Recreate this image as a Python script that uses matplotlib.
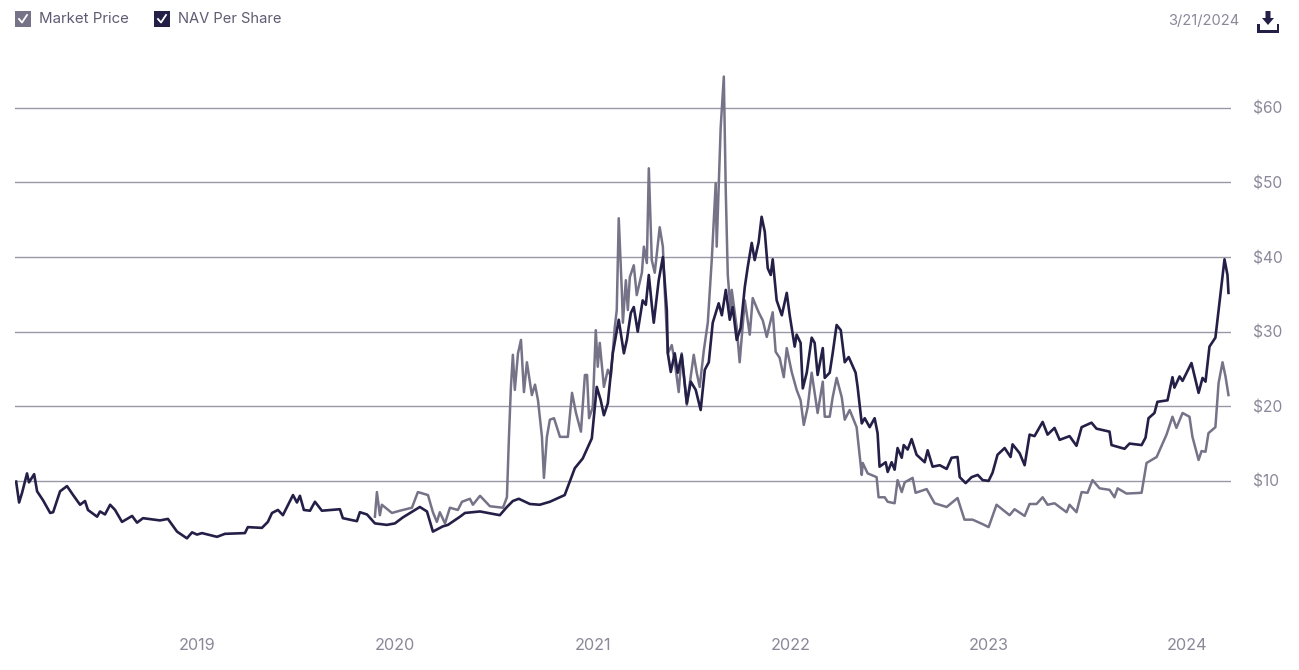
import matplotlib
matplotlib.use("Agg")
import matplotlib.pyplot as plt
from matplotlib.patches import Rectangle, Polygon
from matplotlib.lines import Line2D

plt.rcParams['font.family'] = ['Inter', 'DejaVu Sans']

nav_years = [2018.086, 2018.101, 2018.116, 2018.141, 2018.151, 2018.177, 2018.192, 2018.222, 2018.258, 2018.273,
    2018.308, 2018.343, 2018.374, 2018.409, 2018.434, 2018.449, 2018.495, 2018.510, 2018.535, 2018.561,
    2018.586, 2018.621, 2018.672, 2018.697, 2018.727, 2018.813, 2018.853, 2018.899, 2018.949, 2018.975,
    2019.0, 2019.025, 2019.101, 2019.141, 2019.242, 2019.257, 2019.328, 2019.358, 2019.379, 2019.409,
    2019.434, 2019.485, 2019.505, 2019.520, 2019.540, 2019.571, 2019.596, 2019.631, 2019.722, 2019.737,
    2019.808, 2019.823, 2019.859, 2019.899, 2019.959, 2020.0, 2020.040, 2020.126, 2020.162, 2020.192,
    2020.242, 2020.268, 2020.329, 2020.354, 2020.430, 2020.530, 2020.566, 2020.596, 2020.626, 2020.682,
    2020.732, 2020.783, 2020.858, 2020.909, 2020.949, 2020.995, 2021.020, 2021.040, 2021.056, 2021.076,
    2021.101, 2021.131, 2021.157, 2021.172, 2021.192, 2021.207, 2021.227, 2021.252, 2021.268, 2021.283,
    2021.298, 2021.308, 2021.333, 2021.354, 2021.374, 2021.379, 2021.394, 2021.414, 2021.429, 2021.449,
    2021.475, 2021.495, 2021.520, 2021.545, 2021.566, 2021.586, 2021.606, 2021.636, 2021.652, 2021.672,
    2021.692, 2021.707, 2021.727, 2021.747, 2021.768, 2021.783, 2021.803, 2021.818, 2021.838, 2021.853,
    2021.869, 2021.884, 2021.899, 2021.909, 2021.929, 2021.955, 2021.980, 2021.995, 2022.020, 2022.030,
    2022.050, 2022.061, 2022.081, 2022.106, 2022.121, 2022.136, 2022.162, 2022.172, 2022.197, 2022.212,
    2022.232, 2022.253, 2022.273, 2022.293, 2022.328, 2022.338, 2022.359, 2022.374, 2022.399, 2022.424,
    2022.439, 2022.449, 2022.480, 2022.490, 2022.510, 2022.525, 2022.540, 2022.561, 2022.571, 2022.591,
    2022.611, 2022.636, 2022.677, 2022.692, 2022.717, 2022.753, 2022.788, 2022.813, 2022.843, 2022.854,
    2022.884, 2022.914, 2022.945, 2022.970, 2023.0, 2023.020, 2023.045, 2023.081, 2023.111, 2023.121,
    2023.157, 2023.182, 2023.207, 2023.232, 2023.273, 2023.298, 2023.333, 2023.359, 2023.409, 2023.444,
    2023.470, 2023.520, 2023.545, 2023.611, 2023.621, 2023.687, 2023.712, 2023.773, 2023.793, 2023.808,
    2023.838, 2023.853, 2023.904, 2023.929, 2023.939, 2023.965, 2023.980, 2024.025, 2024.061, 2024.081,
    2024.096, 2024.116, 2024.146, 2024.167, 2024.192, 2024.207, 2024.212]
nav_values = [9.9, 7.1, 8.4, 11.0, 9.8, 10.9, 8.6, 7.4, 5.7, 5.8,
    8.6, 9.3, 8.1, 6.8, 7.3, 6.1, 5.2, 5.9, 5.5, 6.8,
    6.1, 4.5, 5.3, 4.4, 5.0, 4.7, 4.9, 3.2, 2.3, 3.1,
    2.8, 3.0, 2.5, 2.9, 3.0, 3.8, 3.7, 4.5, 5.7, 6.1,
    5.4, 8.1, 7.1, 8.0, 6.1, 6.0, 7.2, 6.0, 6.2, 5.0,
    4.6, 5.8, 5.5, 4.3, 4.1, 4.3, 5.1, 6.5, 5.9, 3.2,
    3.9, 4.1, 5.2, 5.7, 5.9, 5.4, 6.5, 7.3, 7.6, 6.9,
    6.8, 7.2, 8.1, 11.7, 13.0, 15.7, 22.6, 20.8, 18.8, 20.4,
    27.1, 31.6, 27.1, 28.9, 32.5, 33.3, 30.0, 34.2, 33.6, 37.6,
    33.6, 31.2, 36.9, 40.0, 32.9, 27.1, 24.6, 27.1, 24.5, 26.9,
    20.4, 23.3, 22.2, 19.5, 24.9, 25.9, 31.2, 33.8, 32.2, 35.6,
    31.6, 33.3, 28.9, 30.5, 36.0, 38.7, 41.9, 39.6, 42.0, 45.4,
    43.4, 38.5, 37.6, 39.7, 34.2, 32.2, 35.2, 32.2, 28.0, 29.6,
    28.5, 22.4, 24.5, 29.2, 28.5, 24.2, 27.8, 23.8, 24.5, 27.1,
    30.9, 30.2, 25.9, 26.6, 24.5, 22.6, 17.7, 18.4, 17.2, 18.4,
    16.4, 11.9, 12.5, 11.2, 12.5, 11.5, 14.4, 13.1, 14.8, 14.2,
    15.6, 13.5, 12.5, 14.1, 11.9, 12.1, 11.6, 13.1, 13.2, 10.5,
    9.7, 10.5, 10.8, 10.1, 10.0, 11.1, 13.5, 14.4, 13.2, 14.9,
    13.7, 12.1, 16.2, 16.0, 17.9, 16.2, 17.1, 15.5, 16.0, 14.7,
    17.2, 17.8, 17.0, 16.6, 14.8, 14.3, 15.0, 14.8, 15.8, 18.4,
    19.1, 20.6, 20.8, 23.9, 22.5, 24.0, 23.4, 25.8, 21.8, 23.8,
    23.3, 28.0, 29.2, 34.0, 39.7, 37.6, 35.2]

market_years = [2019.899, 2019.909, 2019.924, 2019.934, 2019.985, 2020.025, 2020.086, 2020.116, 2020.167, 2020.192,
    2020.212, 2020.227, 2020.253, 2020.278, 2020.318, 2020.339, 2020.379, 2020.394, 2020.430, 2020.480,
    2020.546, 2020.566, 2020.576, 2020.586, 2020.596, 2020.606, 2020.622, 2020.637, 2020.652, 2020.667,
    2020.692, 2020.708, 2020.723, 2020.743, 2020.753, 2020.768, 2020.783, 2020.804, 2020.834, 2020.874,
    2020.895, 2020.915, 2020.940, 2020.960, 2020.971, 2020.981, 2021.0, 2021.015, 2021.025, 2021.035,
    2021.056, 2021.076, 2021.091, 2021.111, 2021.121, 2021.131, 2021.147, 2021.152, 2021.167, 2021.177,
    2021.187, 2021.207, 2021.222, 2021.248, 2021.258, 2021.273, 2021.283, 2021.298, 2021.313, 2021.338,
    2021.354, 2021.364, 2021.379, 2021.399, 2021.414, 2021.434, 2021.449, 2021.475, 2021.510, 2021.525,
    2021.540, 2021.561, 2021.581, 2021.601, 2021.621, 2021.626, 2021.646, 2021.662, 2021.672, 2021.682,
    2021.697, 2021.702, 2021.727, 2021.742, 2021.768, 2021.793, 2021.808, 2021.838, 2021.859, 2021.879,
    2021.909, 2021.924, 2021.944, 2021.965, 2021.980, 2022.005, 2022.030, 2022.050, 2022.066, 2022.086,
    2022.106, 2022.121, 2022.136, 2022.162, 2022.172, 2022.197, 2022.212, 2022.232, 2022.258, 2022.273,
    2022.298, 2022.333, 2022.359, 2022.364, 2022.389, 2022.434, 2022.444, 2022.475, 2022.490, 2022.525,
    2022.540, 2022.561, 2022.576, 2022.616, 2022.631, 2022.687, 2022.727, 2022.788, 2022.843, 2022.878,
    2022.919, 2022.970, 2023.0, 2023.040, 2023.106, 2023.131, 2023.182, 2023.207, 2023.242, 2023.273,
    2023.298, 2023.333, 2023.394, 2023.409, 2023.444, 2023.470, 2023.500, 2023.525, 2023.561, 2023.611,
    2023.636, 2023.652, 2023.697, 2023.773, 2023.798, 2023.849, 2023.899, 2023.929, 2023.949, 2023.980,
    2024.015, 2024.030, 2024.061, 2024.076, 2024.096, 2024.111, 2024.146, 2024.162, 2024.182, 2024.197,
    2024.212]
market_values = [5.2, 8.5, 5.4, 6.8, 5.7, 6.0, 6.4, 8.5, 8.1, 5.8,
    4.5, 5.8, 4.3, 6.4, 6.1, 7.2, 7.6, 6.8, 8.0, 6.6,
    6.4, 7.8, 15.7, 22.5, 26.9, 22.2, 27.1, 28.9, 21.9, 25.9,
    21.5, 22.9, 20.8, 15.9, 10.4, 15.9, 18.2, 18.4, 15.9, 15.9,
    21.8, 19.1, 16.6, 24.2, 24.2, 18.4, 19.9, 30.2, 25.3, 28.5,
    22.6, 24.9, 24.0, 30.6, 32.9, 45.2, 35.2, 31.2, 36.9, 32.9,
    37.3, 38.9, 34.9, 37.9, 41.4, 39.2, 51.9, 39.6, 37.9, 44.0,
    41.4, 35.2, 27.1, 28.2, 26.0, 21.9, 27.1, 20.2, 26.9, 24.5,
    22.6, 27.5, 31.2, 39.6, 49.9, 41.4, 57.3, 64.2, 48.6, 37.6,
    32.5, 35.6, 30.6, 25.9, 34.2, 29.6, 34.5, 32.6, 31.5, 29.3,
    32.6, 27.3, 26.5, 23.9, 27.8, 24.6, 22.2, 20.8, 17.5, 19.9,
    24.5, 21.8, 19.1, 23.3, 18.6, 18.6, 21.2, 23.8, 21.2, 18.2,
    19.5, 17.2, 10.8, 12.4, 11.0, 10.5, 7.8, 7.8, 7.2, 7.0,
    10.1, 8.5, 9.8, 10.4, 8.4, 8.9, 7.0, 6.5, 7.7, 4.8,
    4.8, 4.2, 3.8, 6.8, 5.4, 6.2, 5.3, 6.9, 6.9, 7.8,
    6.8, 7.0, 5.8, 6.8, 5.8, 8.5, 8.4, 10.1, 9.0, 8.8,
    7.8, 9.0, 8.3, 8.4, 12.4, 13.2, 16.2, 18.6, 17.1, 19.1,
    18.6, 15.9, 12.8, 14.0, 13.9, 16.4, 17.2, 23.1, 25.9, 24.0,
    21.5]

year_ticks = [2019, 2020, 2021, 2022, 2023, 2024]
price_ticks = [10, 20, 30, 40, 50, 60]
price_labels = ['$10', '$20', '$30', '$40', '$50', '$60']

W, H = 1299, 670
MARKET = '#767287'
NAV = '#241f47'
GREY = '#8b8899'

fig = plt.figure(figsize=(W / 100, H / 100), dpi=100)
ax = fig.add_axes([15 / W, 1 - 620 / H, (1231 - 15) / W, (620 - 40) / H])

ax.set_xlim(2018.0803, 2024.2248)
ax.set_ylim(-8.65, 69.1)

for p in price_ticks:
    ax.axhline(p, color='#9a97a8', lw=1.0, zorder=1)

ax.plot(market_years, market_values, color=MARKET, lw=1.8, zorder=2)
ax.plot(nav_years, nav_values, color=NAV, lw=1.9, zorder=3)

ax.set_xticks(year_ticks)
ax.set_xticklabels([str(y) for y in year_ticks], fontsize=11.7, color=GREY)
ax.tick_params(axis='x', length=0, pad=13)
ax.yaxis.tick_right()
ax.set_yticks(price_ticks)
ax.set_yticklabels(price_labels, fontsize=11.2, color=GREY)
ax.tick_params(axis='y', length=0, pad=16)
for s in ax.spines.values():
    s.set_visible(False)

# legend and download button are drawn by hand, pixel coords from top left
def px(x, y):
    return x / W, 1 - y / H

def add_box(x, color):
    fig.add_artist(Rectangle(px(x, 27), 16 / W, 16 / H, transform=fig.transFigure,
                             facecolor=color, edgecolor='none'))
    xs = [(x + 4) / W, (x + 7) / W, (x + 12) / W]
    ys = [1 - 19 / H, 1 - 22.5 / H, 1 - 15 / H]
    fig.add_artist(Line2D(xs, ys, color='white', lw=1.3, transform=fig.transFigure))

add_box(15, MARKET)
add_box(154, NAV)
fig.text(39 / W, 1 - 19 / H, 'Market Price', fontsize=10.8, color='#5f5b72', va='center', ha='left')
fig.text(178 / W, 1 - 19 / H, 'NAV Per Share', fontsize=10.6, color='#5f5b72', va='center', ha='left')
fig.text(1239 / W, 1 - 21 / H, '3/21/2024', fontsize=10.6, color=GREY, va='center', ha='right')

# download icon
arrow = [px(1265.5, 11), px(1270.5, 11), px(1270.5, 18), px(1274, 18), px(1268, 25), px(1262, 18), px(1265.5, 18)]
fig.add_artist(Polygon(arrow, closed=True, transform=fig.transFigure, facecolor=NAV, edgecolor='none'))
tray = [px(1257, 24), px(1259.5, 24), px(1259.5, 30), px(1276.5, 30), px(1276.5, 24), px(1279, 24),
        px(1279, 33), px(1257, 33)]
fig.add_artist(Polygon(tray, closed=True, transform=fig.transFigure, facecolor=NAV, edgecolor='none'))

fig.savefig('out.png', dpi=100)
